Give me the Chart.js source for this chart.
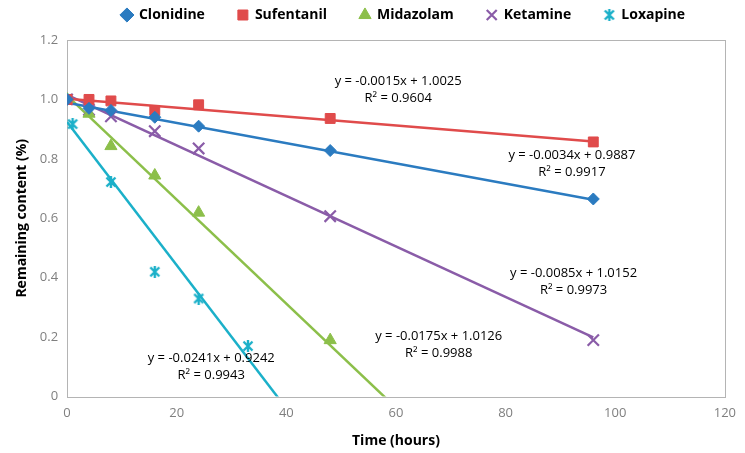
<!DOCTYPE html>
<html>
<head>
<meta charset="utf-8">
<script src="https://cdn.jsdelivr.net/npm/chart.js@4/dist/chart.umd.min.js"></script>
<style>
  html, body { margin: 0; padding: 0; background: #fff; }
  #wrap { width: 745px; height: 453px; }
</style>
</head>
<body>
<div id="wrap"><canvas id="chart"></canvas></div>
<script>
// data
const drugs = ["Clonidine", "Sufentanil", "Midazolam", "Ketamine", "Loxapine"];
const clonidineX = [0, 4, 8, 16, 24, 48, 96];
const clonidineY = [1, 0.97, 0.963, 0.94, 0.91, 0.828, 0.665];
const sufentanilX = [0, 4, 8, 16, 24, 48, 96];
const sufentanilY = [1, 1.0, 0.995, 0.963, 0.982, 0.936, 0.857];
const midazolamX = [0, 4, 8, 16, 24, 48];
const midazolamY = [1, 0.952, 0.843, 0.744, 0.619, 0.19];
const ketamineX = [0, 4, 8, 16, 24, 48, 96];
const ketamineY = [1, 0.965, 0.943, 0.893, 0.835, 0.607, 0.19];
const loxapineX = [0, 1, 8, 16, 24, 33];
const loxapineY = [1, 0.917, 0.722, 0.42, 0.33, 0.17];

// trendline coefficients (from the equations in the chart)
const slopes = [-0.0034, -0.0015, -0.0175, -0.0085, -0.0241];
const intercepts = [0.9887, 1.0025, 1.0126, 1.0152, 0.9242];
const rSquared = ["0.9917", "0.9604", "0.9988", "0.9973", "0.9943"];
const trendEnd = [96, 96, 60, 96, 40];

const xTicks = [0, 20, 40, 60, 80, 100, 120];
const yTicks = [0, 0.2, 0.4, 0.6, 0.8, 1, 1.2];

const colors = ["#2b7bc0", "#e04b4b", "#8cbf4a", "#8a5ca8", "#1bb0c9"];
// where each equation label sits (data coords of its first line centre)
const labelAt = [[92.1, 0.811], [60.4, 1.062], [67.8, 0.203], [92.4, 0.416], [26.3, 0.128]];

// excel style asterisk: an X with a vertical bar
function asterisk(color, size) {
  const c = document.createElement("canvas");
  c.width = size; c.height = size;
  const g = c.getContext("2d");
  g.strokeStyle = color;
  g.lineWidth = 2.4;
  const m = 1.5, s = size - 1.5;
  g.beginPath();
  g.moveTo(m, m); g.lineTo(s, s);
  g.moveTo(s, m); g.lineTo(m, s);
  g.moveTo(size / 2, 0); g.lineTo(size / 2, size);
  g.stroke();
  return c;
}

const markers = ["rectRot", "rect", "triangle", "crossRot", asterisk(colors[4], 12)];
const markerSize = [6, 7, 7, 8, 6];

const xs = [clonidineX, sufentanilX, midazolamX, ketamineX, loxapineX];
const ys = [clonidineY, sufentanilY, midazolamY, ketamineY, loxapineY];

const datasets = [];
drugs.forEach((name, i) => {
  datasets.push({
    label: name,
    data: xs[i].map((x, k) => ({ x: x, y: ys[i][k] })),
    showLine: false,
    pointStyle: markers[i],
    pointRadius: markerSize[i],
    pointBackgroundColor: colors[i],
    pointBorderColor: colors[i],
    pointBorderWidth: i == 3 ? 2.2 : 1,
    backgroundColor: colors[i],
    borderColor: colors[i],
    order: 1
  });
});
drugs.forEach((name, i) => {
  datasets.push({
    label: "trend",
    data: [{ x: 0, y: intercepts[i] }, { x: trendEnd[i], y: intercepts[i] + slopes[i] * trendEnd[i] }],
    showLine: true,
    borderColor: colors[i],
    borderWidth: 2.5,
    pointRadius: 0,
    pointHoverRadius: 0,
    order: 2
  });
});

const FONT = "'Open Sans', 'Liberation Sans', sans-serif";

const equationLabels = {
  id: "equationLabels",
  afterDatasetsDraw(chart) {
    const ctx = chart.ctx;
    const sx = chart.scales.x, sy = chart.scales.y;
    ctx.save();
    ctx.fillStyle = "#000";
    ctx.font = "13px " + FONT;
    ctx.textAlign = "center";
    ctx.textBaseline = "middle";
    drugs.forEach((d, i) => {
      const px = sx.getPixelForValue(labelAt[i][0]);
      const py = sy.getPixelForValue(labelAt[i][1]);
      const s = slopes[i].toFixed(4);
      const b = intercepts[i].toFixed(4);
      ctx.fillText("y = " + s + "x + " + b, px, py);
      ctx.fillText("R\u00b2 = " + rSquared[i], px, py + 17);
    });
    ctx.restore();
  }
};

const plotBorder = {
  id: "plotBorder",
  beforeDatasetsDraw(chart) {
    const a = chart.chartArea;
    const ctx = chart.ctx;
    ctx.save();
    ctx.strokeStyle = "#b4b4b4";
    ctx.lineWidth = 1;
    ctx.strokeRect(Math.round(a.left) + 0.5, Math.round(a.top) + 0.5, Math.round(a.right - a.left), Math.round(a.bottom - a.top));
    ctx.restore();
  }
};

// legend items sit high, plot starts lower: fix the legend box height,
// and centre the legend over the plot instead of the whole canvas
const legendHeight = {
  id: "legendHeight",
  beforeInit(chart) {
    const fit = chart.legend.fit;
    chart.legend.fit = function () {
      fit.call(this);
      this.height = 65;
    };
  },
  afterLayout(chart) {
    chart.legend.left += 28;
    chart.legend.right += 28;
  }
};

new Chart(document.getElementById("chart"), {
  type: "scatter",
  data: { datasets: datasets },
  plugins: [plotBorder, equationLabels, legendHeight],
  options: {
    responsive: true,
    maintainAspectRatio: false,
    animation: false,
    layout: { padding: { left: 14, right: 8, top: -25, bottom: 4 } },
    plugins: {
      tooltip: { enabled: false },
      legend: {
        position: "top",
        labels: {
          usePointStyle: true,
          boxWidth: 10,
          boxHeight: 10,
          padding: 33,
          color: "#000",
          font: { family: FONT, size: 14, weight: "bold" },
          filter: (item) => item.text !== "trend"
        }
      }
    },
    scales: {
      x: {
        type: "linear",
        min: 0,
        max: 120,
        afterBuildTicks: (s) => { s.ticks = xTicks.map(v => ({ value: v })); },
        grid: { display: false, drawTicks: false },
        border: { display: false },
        ticks: { color: "#7f7f7f", padding: 9, font: { family: FONT, size: 13 } },
        title: { display: true, text: "Time (hours)", color: "#000", padding: { top: 2, bottom: 0 }, font: { family: FONT, size: 14, weight: "bold" } }
      },
      y: {
        type: "linear",
        min: 0,
        max: 1.2,
        afterBuildTicks: (s) => { s.ticks = yTicks.map(v => ({ value: v })); },
        grid: { display: false, drawTicks: false },
        border: { display: false },
        ticks: { color: "#7f7f7f", padding: 9, font: { family: FONT, size: 13 } },
        title: { display: true, text: "Remaining content (%)", color: "#000", padding: { top: 0, bottom: 0 }, font: { family: FONT, size: 14, weight: "bold" } }
      }
    }
  }
});
</script>
</body>
</html>
